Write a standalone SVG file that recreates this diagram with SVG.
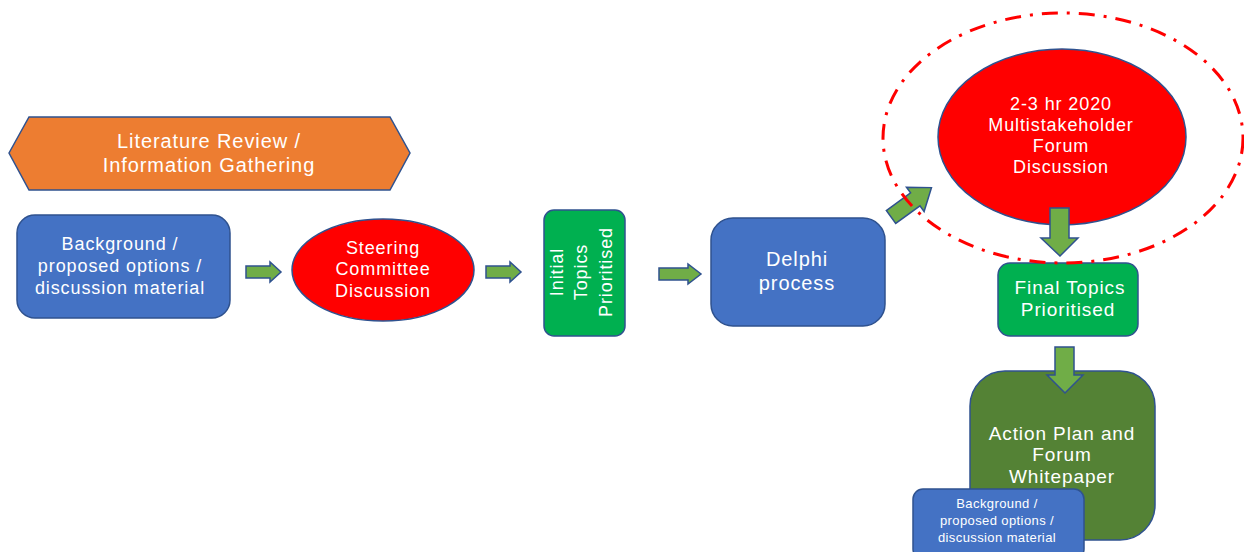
<svg xmlns="http://www.w3.org/2000/svg" width="1244" height="552" viewBox="0 0 1244 552">
<style>
.t{font-family:"Liberation Sans",Arial,sans-serif;fill:#fff;text-anchor:middle;letter-spacing:0.9px}
.s{letter-spacing:0.4px}
.blue{fill:#4472C4;stroke:#2F528F;stroke-width:1.5}
.red{fill:#FF0000;stroke:#2F528F;stroke-width:1.5}
.green{fill:#00B050;stroke:#2F528F;stroke-width:1.5}
.dgreen{fill:#548235;stroke:#2F528F;stroke-width:1.5}
.orange{fill:#ED7D31;stroke:#2F528F;stroke-width:1.5}
.arr{fill:#70AD47;stroke:#2F528F;stroke-width:1.5}
</style>
<rect width="1244" height="552" fill="#fff"/>
<g id="lit">
<polygon class="orange" points="9,153 29,117 390,117 410,153 390,190 29,190"/>
<text class="t" font-size="20" x="209" y="148">Literature Review /</text>
<text class="t" font-size="20" x="209" y="172">Information Gathering</text>
</g>
<g id="background">
<rect class="blue" x="17" y="215" width="213" height="103" rx="18"/>
<text class="t" font-size="18" x="120" y="250">Background /</text>
<text class="t" font-size="18" x="120" y="272">proposed options /</text>
<text class="t" font-size="18" x="120" y="294">discussion material</text>
</g>
<g id="steering">
<ellipse class="red" cx="383" cy="270" rx="91" ry="51"/>
<text class="t" font-size="18" x="383" y="254">Steering</text>
<text class="t" font-size="18" x="383" y="275">Committee</text>
<text class="t" font-size="18" x="383" y="297">Discussion</text>
</g>
<g id="initial">
<rect class="green" x="544" y="210" width="81" height="126" rx="10"/>
<text class="t" font-size="18" transform="translate(563,272) rotate(-90)">Initial</text>
<text class="t" font-size="18" transform="translate(587,272) rotate(-90)">Topics</text>
<text class="t" font-size="18" transform="translate(612,272) rotate(-90)">Prioritised</text>
</g>
<g id="delphi">
<rect class="blue" x="711" y="218" width="174" height="108" rx="22"/>
<text class="t" font-size="20" x="797" y="266">Delphi</text>
<text class="t" font-size="20" x="797" y="290">process</text>
</g>
<g id="forum">
<ellipse class="red" cx="1062" cy="137" rx="124" ry="88"/>
<text class="t" font-size="18" x="1061" y="110">2-3 hr 2020</text>
<text class="t" font-size="18" x="1061" y="131">Multistakeholder</text>
<text class="t" font-size="18" x="1061" y="152">Forum</text>
<text class="t" font-size="18" x="1061" y="173">Discussion</text>
</g>
<g id="final">
<rect class="green" x="998" y="263" width="140" height="73" rx="12"/>
<text class="t" font-size="19" x="1070" y="294">Final Topics</text>
<text class="t" font-size="19" x="1068" y="316">Prioritised</text>
</g>
<g id="action">
<rect class="dgreen" x="970" y="371" width="185" height="169" rx="35"/>
<text class="t" font-size="19" x="1062" y="440">Action Plan and</text>
<text class="t" font-size="19" x="1062" y="461">Forum</text>
<text class="t" font-size="19" x="1062" y="483">Whitepaper</text>
</g>
<g id="background2">
<rect class="blue" x="913" y="489" width="171" height="70" rx="10"/>
<text class="t s" font-size="13" x="997" y="508">Background /</text>
<text class="t s" font-size="13" x="997" y="525">proposed options /</text>
<text class="t s" font-size="13" x="997" y="542">discussion material</text>
</g>
<g id="connectors">
<path class="arr" d="M246,266 H270 V262 L281,272 L270,282 V278 H246 Z"/>
<path class="arr" d="M486,266 H510 V262 L521,272 L510,282 V278 H486 Z"/>
<path class="arr" d="M659,268 H688 V264 L701,274 L688,284 V280 H659 Z"/>
<path class="arr" transform="translate(891,217) rotate(-36)" d="M0,-8 H30 V-15 L50,0 L30,15 V8 H0 Z"/>
<path class="arr" d="M1050,208 H1069 V238 H1078 L1060,256 L1041,238 H1050 Z"/>
<path class="arr" d="M1055,347 H1074 V375 H1083 L1065,393 L1047,375 H1055 Z"/>
</g>
<g id="highlight">
<ellipse cx="1063" cy="138" rx="180" ry="125" fill="none" stroke="#FF0000" stroke-width="3" stroke-dasharray="16 9 3 9"/>
</g>
</svg>
